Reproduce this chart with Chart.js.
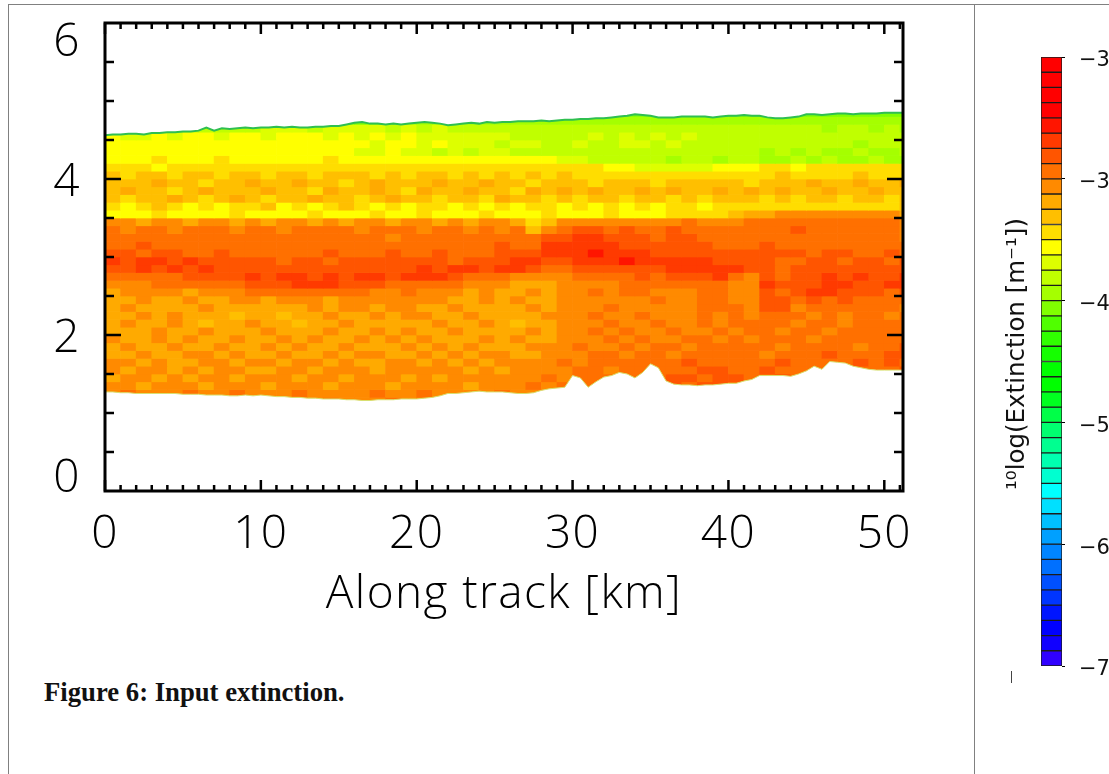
<!DOCTYPE html>
<html>
<head>
<meta charset="utf-8">
<title>Figure 6: Input extinction</title>
<script src="https://cdn.jsdelivr.net/npm/chart.js@4"></script>
<style>
  html, body { margin: 0; padding: 0; width: 1109px; height: 774px; overflow: hidden; background: #fff; }
  canvas { position: absolute; }
  #plot { left: 0; top: 0; }
  #cbar { left: 985px; top: 0; }
  .rule { position: absolute; background: #808080; }
  #caption { position: absolute; left: 44px; top: 677px; font: bold 26.7px "Liberation Serif", serif; color: #111; white-space: nowrap; }
</style>
</head>
<body>
<div class="rule" style="left:8px;top:4px;width:1101px;height:1px"></div>
<div class="rule" style="left:8px;top:4px;width:1px;height:770px"></div>
<div class="rule" style="left:974px;top:4px;width:1px;height:770px"></div>
<div class="rule" style="left:1011px;top:671px;width:1px;height:12px;background:#444"></div>
<canvas id="plot" width="974" height="650"></canvas>
<canvas id="cbar" width="300" height="700"></canvas>
<div id="caption">Figure 6: Input extinction.</div>
<script>
// colours of the colour bar, top segment first (-3.0 .. -3.1 is the first one)
const levelColors = ['#ff0000','#ff0000','#ff0000','#ff0000','#ff1500','#ff3a00','#ff5500','#ff7000','#ff8a00','#ffaa00',
  '#ffbf00','#ffdd00','#ffff00','#ddff00','#c0ff00','#a5ff00','#80ff00','#50ff00','#30ff00','#15ff00',
  '#00ff00','#00ff00','#00ff20','#00ff48','#00ff70','#00ff90','#00ffb0','#00ffd0','#00ffff','#00e0ff',
  '#00c0ff','#00a0ff','#0085ff','#0070ff','#0050ff','#0035ff','#0015ff','#0000ff','#1000ff','#3000ff'];
const barTicks = [-7.0, -6.2, -5.4, -4.6, -3.8, -3.0];

const xMajorTicks = [0, 10, 20, 30, 40, 50];
const xMinorTicks = [1,2,3,4,5,6,7,8,9,11,12,13,14,15,16,17,18,19,21,22,23,24,25,26,27,28,29,31,32,33,34,35,36,37,38,39,41,42,43,44,45,46,47,48,49,51];
const yMajorTicks = [2, 4];
const yMinorTicks = [0.5, 1, 1.5, 2.5, 3, 3.5, 4.5, 5, 5.5];

// lower edge of each row of cells [km], same order as extinctionRows
const rowHeights = [4.8,4.7,4.6,4.5,4.4,4.3,4.2,4.1,4.0,3.9,3.8,3.7,3.6,3.5,3.4,3.3,3.2,3.1,3.0,2.9,2.8,2.7,2.6,2.5,2.4,2.3,2.2,2.1,2.0,1.9,1.8,1.7,1.6,1.5,1.4,1.3,1.2,1.1];
// -log10 extinction x 10, one value per km along track
const extinctionRows = [
[46,46,46,46,46,46,46,46,46,46,46,46,46,46,46,46,46,46,46,46,46,46,46,46,46,46,46,46,46,46,46,46,46,46,46,46,46,46,46,46,46,46,46,46,46,46,46,46,46,46,46,46],
[46,46,46,46,46,46,46,46,46,46,46,46,46,46,46,46,46,46,45,45,45,45,45,45,45,45,45,45,45,45,45,45,45,45,45,45,45,45,45,45,45,45,45,45,45,45,45,45,45,45,45,45],
[44,44,44,44,44,44,44,44,44,44,43,43,43,44,43,43,43,43,44,43,44,43,44,44,44,44,44,44,44,44,44,44,44,44,44,44,44,44,44,44,44,44,44,44,44,44,45,44,44,45,44,45],
[42,43,43,42,43,42,42,43,42,42,43,42,42,42,43,42,43,42,43,42,43,43,43,43,43,43,44,44,44,44,44,43,44,43,44,43,44,43,44,44,44,44,44,44,44,44,44,44,44,44,44,44],
[42,42,42,42,42,42,42,42,42,42,42,42,42,42,42,42,42,43,42,42,43,42,43,43,43,44,43,43,44,44,43,44,44,43,43,44,43,44,44,44,44,44,44,44,44,44,44,44,45,44,44,44],
[42,42,42,42,42,42,42,42,42,42,42,42,42,42,42,42,43,43,42,43,43,44,43,44,43,43,44,44,44,44,44,44,44,44,44,44,44,44,44,44,44,44,45,44,45,44,45,45,44,45,45,44],
[42,42,42,41,42,42,42,41,42,42,42,42,42,42,41,42,42,42,42,42,42,42,42,42,42,42,42,42,42,43,43,44,44,44,44,44,45,44,44,45,44,44,45,45,44,45,44,45,45,44,45,45],
[41,41,41,42,41,41,41,41,41,41,41,41,41,41,41,41,41,41,41,41,41,41,41,41,41,41,41,41,41,41,41,41,42,42,43,43,43,43,43,42,42,42,41,41,42,41,41,41,41,41,41,41],
[40,41,40,40,41,40,40,41,40,40,41,40,40,41,40,40,40,41,40,41,40,40,41,40,41,40,41,40,41,40,41,41,41,41,41,41,41,41,41,41,41,41,41,40,41,41,41,41,40,41,41,41],
[40,40,40,39,40,40,41,40,40,39,40,40,39,40,40,41,40,39,40,40,40,39,40,40,39,40,40,41,40,40,40,41,40,40,40,41,40,40,40,40,40,41,40,40,40,39,40,40,39,40,40,39],
[40,39,40,40,41,40,39,40,40,40,39,40,40,41,39,40,40,39,40,41,39,40,40,39,40,40,41,39,40,39,40,39,40,40,39,40,39,40,40,39,40,39,40,39,40,40,39,40,40,39,40,40],
[40,41,40,40,39,40,41,40,39,40,41,40,40,39,40,40,41,40,39,40,40,41,40,40,41,39,40,40,41,40,41,40,40,41,40,40,41,40,41,40,40,40,41,40,41,40,40,41,40,40,41,40],
[41,42,41,40,41,42,41,42,41,41,40,42,41,42,41,40,41,42,41,42,41,41,42,41,42,41,42,41,41,42,41,42,41,42,41,42,41,41,42,41,41,41,41,41,41,41,41,41,41,41,41,40],
[42,42,42,41,42,42,42,42,41,42,42,42,42,41,42,42,42,41,42,42,41,42,42,42,41,42,42,42,41,42,42,42,41,42,42,42,41,41,41,41,40,39,39,38,38,38,38,38,38,38,38,39],
[38,38,39,38,38,39,38,38,39,38,39,38,38,39,38,39,38,38,39,38,38,39,38,39,38,38,39,41,40,38,38,38,38,38,38,38,38,37,38,38,38,37,37,37,37,37,37,37,37,37,37,38],
[37,38,37,37,38,37,37,37,38,37,37,38,37,37,37,37,38,37,37,37,38,37,37,38,37,38,37,40,38,37,36,36,37,36,37,37,36,37,37,37,37,37,37,37,36,37,37,37,37,37,37,38],
[37,37,37,37,37,37,37,37,37,37,37,37,37,37,37,37,37,37,38,37,37,37,37,37,37,37,37,37,36,36,35,35,36,36,36,37,36,36,37,37,37,37,37,37,37,37,37,37,37,37,37,38],
[37,37,36,37,37,37,37,37,37,37,37,37,37,37,37,37,37,37,37,37,37,37,37,37,37,36,37,37,35,35,35,35,35,36,36,36,36,36,36,37,37,37,36,37,37,37,37,37,37,37,37,37],
[36,36,37,36,36,37,37,36,37,37,37,37,37,37,36,37,37,37,36,37,37,36,37,37,37,36,36,36,35,35,35,34,35,35,35,36,36,36,36,36,36,36,36,36,36,37,36,36,37,37,36,37],
[35,36,35,35,36,35,36,36,36,36,36,37,36,36,37,36,36,36,36,36,36,36,37,36,36,36,35,35,36,36,35,35,35,34,35,35,35,35,35,36,36,36,36,37,37,36,36,37,36,36,37,36],
[36,36,35,36,35,36,35,36,36,36,36,36,36,36,36,36,36,36,36,36,35,36,35,35,36,35,35,36,37,37,36,36,36,36,36,36,35,35,35,35,35,36,36,37,36,36,36,36,36,36,36,36],
[37,37,37,37,37,36,36,36,36,35,36,35,35,36,35,36,35,35,36,35,35,35,36,37,37,37,38,38,38,38,37,37,37,37,36,37,36,36,36,35,37,38,36,37,36,36,35,36,35,36,36,35],
[38,38,38,37,37,37,37,37,37,36,36,36,35,35,35,36,36,36,37,37,37,37,37,38,38,38,39,39,39,38,38,38,38,37,37,37,37,37,37,37,38,38,35,36,36,36,35,35,36,36,35,35],
[39,38,38,38,38,39,38,38,38,37,37,37,37,37,37,37,37,38,38,37,38,38,38,39,38,39,39,38,39,38,38,37,38,37,37,38,38,38,37,37,38,38,36,37,36,35,35,36,36,36,37,36],
[39,39,38,39,39,38,39,39,38,38,39,38,38,38,39,38,38,38,38,38,38,38,39,39,38,39,38,39,39,38,38,38,38,38,38,37,38,38,37,37,38,38,36,36,37,36,37,36,37,37,37,37],
[39,38,39,39,39,39,38,39,39,39,39,39,39,38,39,38,38,39,38,38,39,39,38,39,39,39,39,38,39,38,38,38,37,38,38,38,38,38,37,37,37,38,36,36,38,37,37,37,37,37,37,38],
[39,39,38,39,38,39,39,39,40,39,39,40,39,39,38,39,39,38,39,38,38,39,39,38,39,39,39,39,38,38,38,37,38,38,37,38,38,38,37,38,37,38,37,37,37,38,37,38,37,37,38,37],
[39,38,39,39,38,39,40,39,39,38,39,39,40,39,39,38,39,39,39,39,39,38,39,39,38,39,40,39,39,38,38,38,37,38,38,37,38,38,37,38,37,37,37,37,38,37,37,38,37,37,37,37],
[39,39,39,38,39,39,38,39,39,39,38,39,39,39,38,39,39,38,39,38,39,39,38,39,39,39,39,38,39,38,38,37,38,37,38,38,37,38,38,37,38,37,37,38,37,37,38,37,37,37,37,37],
[38,39,39,38,39,38,39,39,38,39,39,38,39,38,39,39,38,39,38,39,38,39,39,39,38,39,38,39,39,38,38,38,37,38,37,38,38,37,37,38,37,38,37,37,37,38,37,37,37,37,37,37],
[39,38,39,39,38,39,39,38,39,39,38,39,38,39,39,38,39,39,39,38,39,38,39,38,39,39,39,38,38,38,37,38,38,37,38,37,37,38,37,37,37,37,37,38,37,37,37,37,38,37,37,36],
[39,39,38,39,39,38,38,39,38,39,39,38,39,39,38,39,38,38,39,39,38,39,38,39,38,38,39,39,38,38,38,37,37,38,37,37,38,37,37,37,37,37,38,37,37,37,36,37,37,37,36,36],
[38,38,39,38,39,39,38,38,39,38,38,39,38,38,39,38,39,39,38,38,39,38,39,38,39,38,38,38,38,37,38,37,37,37,37,37,37,36,37,37,37,37,37,36,37,37,37,37,36,37,36,37],
[38,39,38,38,39,38,39,38,38,39,39,38,38,39,38,38,38,39,38,38,38,38,38,39,38,39,38,38,38,38,37,37,38,37,37,37,37,37,36,36,37,37,36,37,37,37,37,36,37,37,37,36],
[39,38,38,39,38,39,38,38,39,38,38,38,39,38,38,39,38,38,38,39,38,39,38,38,38,38,38,38,37,38,37,37,37,37,37,37,36,36,37,36,36,37,37,36,37,37,36,37,36,37,36,37],
[38,38,39,38,38,38,39,38,38,38,39,38,38,38,39,38,38,38,39,38,38,38,38,39,38,38,38,37,38,37,37,37,37,37,37,37,36,37,36,36,37,36,36,37,36,36,37,37,37,37,37,37],
[38,37,38,38,38,37,38,38,37,38,38,38,37,38,38,38,38,37,38,38,37,38,38,38,38,37,38,38,37,38,37,37,37,37,37,37,36,37,36,36,37,36,36,37,36,36,37,37,37,37,37,37],
[38,38,37,38,37,38,38,38,38,37,38,37,38,38,37,38,38,38,37,38,38,38,37,38,38,38,38,37,38,37,37,37,37,37,37,37,37,36,36,37,36,37,37,36,37,37,37,37,37,37,37,37]
];

// cloud edges [km], one value per edgeKm position
const edgeKm = [0,0.5,1,1.5,2,2.5,3,3.5,4,4.5,5,5.5,6,6.5,7,7.5,8,8.5,9,9.5,10,10.5,11,11.5,12,12.5,13,13.5,14,14.5,15,15.5,16,16.5,17,17.5,18,18.5,19,19.5,20,20.5,21,21.5,22,22.5,23,23.5,24,24.5,25,25.5,26,26.5,27,27.5,28,28.5,29,29.5,30,30.5,31,31.5,32,32.5,33,33.5,34,34.5,35,35.5,36,36.5,37,37.5,38,38.5,39,39.5,40,40.5,41,41.5,42,42.5,43,43.5,44,44.5,45,45.5,46,46.5,47,47.5,48,48.5,49,49.5,50,50.5,51,51.2];
const cloudBase = [1.27,1.27,1.26,1.26,1.25,1.25,1.25,1.25,1.25,1.25,1.24,1.24,1.24,1.23,1.23,1.23,1.22,1.22,1.23,1.22,1.23,1.22,1.21,1.21,1.2,1.2,1.19,1.19,1.18,1.18,1.18,1.17,1.17,1.16,1.16,1.17,1.17,1.17,1.18,1.18,1.18,1.19,1.2,1.22,1.25,1.25,1.26,1.27,1.28,1.27,1.27,1.27,1.26,1.25,1.25,1.26,1.29,1.31,1.32,1.33,1.48,1.45,1.33,1.4,1.46,1.48,1.52,1.5,1.45,1.52,1.63,1.58,1.41,1.37,1.36,1.36,1.35,1.36,1.36,1.37,1.38,1.38,1.41,1.43,1.48,1.48,1.48,1.48,1.47,1.5,1.54,1.6,1.56,1.66,1.65,1.64,1.6,1.58,1.56,1.55,1.55,1.55,1.55,1.55];
const cloudTop = [4.56,4.57,4.57,4.58,4.58,4.57,4.59,4.59,4.6,4.6,4.61,4.61,4.62,4.66,4.62,4.65,4.64,4.65,4.66,4.65,4.66,4.66,4.67,4.66,4.67,4.66,4.66,4.67,4.67,4.68,4.68,4.7,4.72,4.73,4.71,4.71,4.7,4.71,4.7,4.71,4.72,4.73,4.72,4.71,4.69,4.7,4.71,4.72,4.71,4.73,4.72,4.73,4.73,4.74,4.74,4.74,4.75,4.74,4.75,4.76,4.76,4.77,4.77,4.78,4.78,4.79,4.8,4.81,4.83,4.82,4.81,4.79,4.79,4.79,4.8,4.8,4.8,4.8,4.79,4.8,4.81,4.81,4.82,4.81,4.81,4.79,4.78,4.78,4.79,4.8,4.83,4.83,4.82,4.83,4.84,4.84,4.83,4.84,4.84,4.84,4.85,4.85,4.85,4.85];

const colorOf = code => levelColors[code - 30];

const heatData = rowHeights.map((lo, r) => ({
  type: 'bar',
  order: 2,
  grouped: false,
  barPercentage: 1,
  categoryPercentage: 1,
  data: extinctionRows[r].map((_, km) => ({ x: km + 0.5, y: [lo, lo + 0.1] })),
  backgroundColor: extinctionRows[r].map(colorOf),
}));

const edgePoints = values => values.map((y, i) => ({ x: edgeKm[i], y }));

// ticks point inward on all four sides, the library only does outward ones
const frameTicks = {
  id: 'frameTicks',
  beforeDraw(chart) {
    // reference lettering is spaced wider than the font
    chart.ctx.letterSpacing = '1.4px';
  },
  afterDatasetsDraw(chart) {
    const { ctx, chartArea: a, scales: { x, y } } = chart;
    ctx.save();
    ctx.strokeStyle = '#000';
    ctx.lineWidth = 2.5;
    ctx.beginPath();
    const xTick = (v, len) => {
      const p = x.getPixelForValue(v);
      ctx.moveTo(p, a.top); ctx.lineTo(p, a.top + len);
      ctx.moveTo(p, a.bottom); ctx.lineTo(p, a.bottom - len);
    };
    const yTick = (v, len) => {
      const p = y.getPixelForValue(v);
      ctx.moveTo(a.left, p); ctx.lineTo(a.left + len, p);
      ctx.moveTo(a.right, p); ctx.lineTo(a.right - len, p);
    };
    xMajorTicks.forEach(v => xTick(v, 11));
    xMinorTicks.forEach(v => xTick(v, 6));
    yMajorTicks.forEach(v => yTick(v, 16));
    yMinorTicks.forEach(v => yTick(v, 9));
    ctx.stroke();
    ctx.lineWidth = 3;
    ctx.strokeRect(a.left, a.top, a.right - a.left, a.bottom - a.top);
    ctx.restore();
  },
};

new Chart(document.getElementById('plot'), {
  type: 'bar',
  data: {
    datasets: [
      ...heatData,
      { type: 'line', order: 1, data: edgePoints(cloudTop), borderColor: '#2fbf50', borderWidth: 2, pointRadius: 0, fill: { target: 'end' }, backgroundColor: '#fff' },
      { type: 'line', order: 1, data: edgePoints(cloudBase), borderColor: '#d8e070', borderWidth: 1, pointRadius: 0, fill: { target: 'start' }, backgroundColor: '#fff' },
    ],
  },
  plugins: [frameTicks],
  options: {
    responsive: false,
    animation: false,
    layout: { padding: { top: 23, right: 71, bottom: 28 } },
    plugins: { legend: { display: false }, tooltip: { enabled: false } },
    scales: {
      x: {
        type: 'linear',
        offset: false,
        min: 0,
        max: 51.2,
        grid: { display: false },
        border: { display: false },
        afterFit(scale) { scale.height = 131; },
        ticks: {
          stepSize: 10,
          includeBounds: false,
          maxRotation: 0,
          autoSkip: false,
          padding: 8,
          color: '#000',
          font: { family: '"Open Sans"', size: 46, weight: 300 },
        },
        title: {
          display: true,
          text: 'Along track [km]',
          color: '#000',
          padding: { top: 4, bottom: 0 },
          font: { family: '"Open Sans"', size: 46, weight: 300 },
        },
      },
      y: {
        min: 0,
        max: 6,
        grid: { display: false },
        border: { display: false },
        afterFit(scale) { scale.width = 105; scale.paddingTop = 0; scale.paddingBottom = 0; },
        ticks: {
          stepSize: 2,
          padding: 16,
          color: '#000',
          font: { family: '"Open Sans"', size: 46, weight: 300, lineHeight: '8px' },
          // blank lines nudge the labels; the end ones sit inside the axis range
          callback: v => (v === 6 ? ['', '', '', '', '', '6'] : v === 0 ? ['0', '', '', ''] : ['', String(v)]),
        },
      },
    },
  },
});

const barTitle = {
  id: 'barTitle',
  afterDraw(chart) {
    const { ctx } = chart;
    ctx.save();
    ctx.translate(33, 354);
    ctx.rotate(-Math.PI / 2);
    ctx.textAlign = 'center';
    ctx.textBaseline = 'middle';
    ctx.fillStyle = '#111';
    ctx.font = '24.5px "DejaVu Sans"';
    ctx.fillText('¹⁰log(Extinction [m⁻¹])', 0, 0);
    ctx.restore();
  },
};

new Chart(document.getElementById('cbar'), {
  type: 'bar',
  data: {
    labels: [''],
    datasets: levelColors.map((color, i) => ({
      data: [[-3 - (i + 1) * 0.1, -3 - i * 0.1]],
      backgroundColor: color,
      borderColor: '#1c1c1c',
      borderWidth: 1,
      borderSkipped: false,
      grouped: false,
      barPercentage: 1,
      categoryPercentage: 1,
    })),
  },
  plugins: [barTitle],
  options: {
    responsive: false,
    animation: false,
    layout: { padding: { left: 56, top: 57, bottom: 34 } },
    plugins: { legend: { display: false }, tooltip: { enabled: false } },
    scales: {
      x: { display: false },
      y: {
        position: 'right',
        min: -7,
        max: -3,
        afterBuildTicks(scale) { scale.ticks = barTicks.map(value => ({ value })); },
        afterFit(scale) { scale.width = 223; scale.paddingTop = 0; scale.paddingBottom = 0; },
        grid: { drawOnChartArea: false, tickLength: 3, color: '#000' },
        border: { display: false },
        ticks: {
          autoSkip: false,
          padding: 14,
          color: '#111',
          font: { family: '"DejaVu Sans"', size: 21, lineHeight: '8px' },
          callback: v => ['', '\u2212' + Math.abs(v).toFixed(1)],
        },
      },
    },
  },
});
</script>
</body>
</html>
